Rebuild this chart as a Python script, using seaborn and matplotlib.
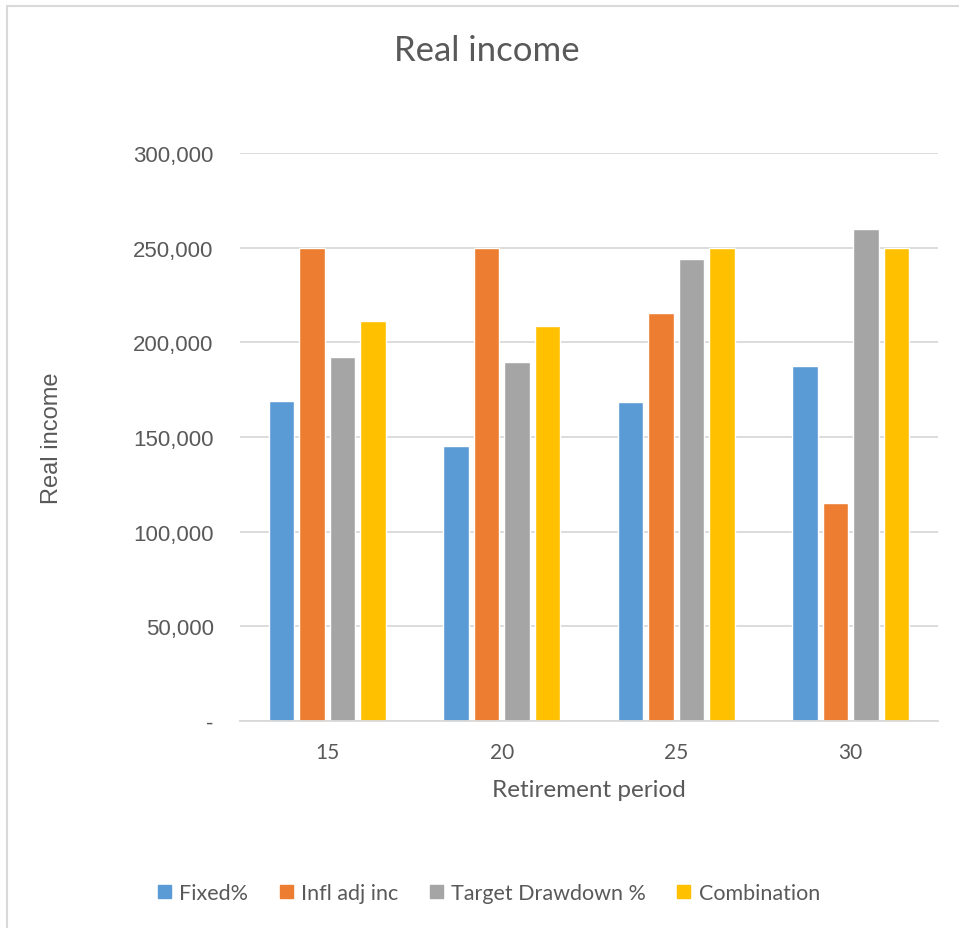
import pandas as pd
import matplotlib.pyplot as plt
import seaborn as sns
from matplotlib.ticker import FuncFormatter
from matplotlib.patches import Rectangle
from matplotlib.lines import Line2D

# data
periods = ["15", "20", "25", "30"]
series_names = ["Fixed%", "Infl adj inc", "Target Drawdown %", "Combination"]
fixed_pct = [169200, 145100, 168700, 187400]
infl_adj_inc = [250000, 250000, 215600, 115400]
target_drawdown = [192300, 189500, 243800, 259900]
combination = [211500, 208600, 250000, 250000]

colors = ["#5B9BD5", "#ED7D31", "#A5A5A5", "#FFC000"]
text_color = "#595959"
grid_color = "#D9D9D9"

rows = []
for name, vals in zip(series_names, [fixed_pct, infl_adj_inc, target_drawdown, combination]):
    for p, v in zip(periods, vals):
        rows.append({"period": p, "series": name, "value": v})
df = pd.DataFrame(rows)

sns.set_style("white")
plt.rcParams["font.family"] = ["Lato", "DejaVu Sans"]

fig = plt.figure(figsize=(9.59, 9.29), dpi=100)
ax = fig.add_axes([240 / 959, 1 - 722 / 929, (938 - 240) / 959, (722 - 154) / 929])

sns.barplot(data=df, x="period", y="value", hue="series", order=periods,
            hue_order=series_names, palette=colors, width=0.70, gap=0.16,
            saturation=1, ax=ax, legend=False)

ax.set_ylim(0, 300000)
ax.set_yticks(range(0, 300001, 50000))
ax.yaxis.set_major_formatter(FuncFormatter(lambda v, _: "-" if v == 0 else f"{v:,.0f}"))
ax.grid(axis="y", color=grid_color, linewidth=1.3)
ax.set_axisbelow(True)
for s in ["top", "right", "left"]:
    ax.spines[s].set_visible(False)
ax.spines["bottom"].set_color(grid_color)
ax.spines["bottom"].set_linewidth(1.3)
ax.tick_params(axis="both", length=0, colors=text_color)
ax.tick_params(axis="y", pad=19, labelsize=16)
ax.tick_params(axis="x", pad=15, labelsize=15)
for lab in ax.get_yticklabels():
    lab.set_family(["Liberation Sans", "DejaVu Sans"])

ax.set_xlabel("Retirement period", fontsize=17.5, color=text_color)
ax.xaxis.set_label_coords(0.5, -(780 - 722) / 568)
ax.set_ylabel("Real income", fontsize=17, color=text_color,
              family=["Liberation Sans", "DejaVu Sans"])
ax.yaxis.set_label_coords(-(240 - 63) / 698, 0.5)

fig.text(487 / 959, 1 - 51 / 929, "Real income", ha="center", va="center",
         fontsize=25, color=text_color)

handles = [Rectangle((0, 0), 1, 1, color=c) for c in colors]
leg = fig.legend(handles, series_names, loc="center", bbox_to_anchor=(489 / 959, 1 - 894 / 929),
                 ncol=4, frameon=False, fontsize=15.5, handlelength=0.6, handleheight=0.6,
                 handletextpad=0.4, columnspacing=1.45)
for t in leg.get_texts():
    t.set_color(text_color)

# outer chart border (only left and top edges visible)
fig.add_artist(Line2D([7 / 959, 7 / 959], [0, 1 - 7 / 929], transform=fig.transFigure,
                      color=grid_color, linewidth=1.5))
fig.add_artist(Line2D([7 / 959, 1], [1 - 7 / 929, 1 - 7 / 929], transform=fig.transFigure,
                      color=grid_color, linewidth=1.5))

fig.savefig("out.png", dpi=100)
